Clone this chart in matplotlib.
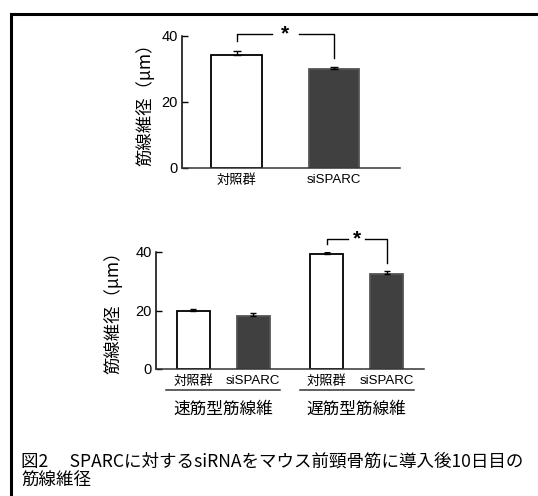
import matplotlib
matplotlib.use('Agg')
import matplotlib.pyplot as plt
from matplotlib.lines import Line2D

JP = ['Noto Sans CJK JP', 'DejaVu Sans']
NUM = ['Liberation Sans', 'DejaVu Sans']

# data
top_labels = ['対照群', 'siSPARC']
top_values = [34.2, 30.0]
top_err = [1.2, 0.7]

bottom_labels = ['対照群', 'siSPARC', '対照群', 'siSPARC']
bottom_values = [19.8, 18.2, 39.4, 32.6]
bottom_err = [0.7, 0.9, 0.7, 0.9]
groups = ['速筋型筋線維', '遅筋型筋線維']

ylabel = '筋線維径（μm）'
caption = ['図2　 SPARCに対するsiRNAをマウス前頸骨筋に導入後10日目の', '筋線維径']

W, H = 538, 496
fig = plt.figure(figsize=(W / 100, H / 100), dpi=100)
fig.patch.set_facecolor('white')

def px(x0, y0, x1, y1):
    # pixel box (top-left origin) -> figure fraction rect
    return [x0 / W, 1 - y1 / H, (x1 - x0) / W, (y1 - y0) / H]

face = ['white', '#404040']
edge = ['black', '#555555']

def style(ax):
    for s in ['top', 'right']:
        ax.spines[s].set_visible(False)
    ax.spines['left'].set_linewidth(1.1)
    ax.spines['bottom'].set_linewidth(1.1)
    ax.spines['bottom'].set_color('#333333')
    ax.set_ylim(0, 40)
    ax.set_yticks([0, 20, 40])
    ax.tick_params(axis='y', direction='in', length=4.5, width=1, pad=3, labelsize=10.5)
    ax.tick_params(axis='x', length=0, pad=4)
    for t in ax.get_yticklabels():
        t.set_family(NUM)

def bracket(ax, x0, x1, y_left, y_top, y_right, gap):
    xm = (x0 + x1) / 2
    kw = dict(color='black', lw=1.0, clip_on=False)
    ax.plot([x0, x0, xm - gap], [y_left, y_top, y_top], **kw)
    ax.plot([xm + gap, x1, x1], [y_top, y_top, y_right], **kw)
    ax.text(xm, y_top, '*', ha='center', va='center', fontsize=15,
            fontweight='bold', family=NUM)

# ---- top chart ----
ax1 = fig.add_axes(px(182, 36, 400, 168))
style(ax1)
pos1 = [0, 1]
ax1.bar(pos1, top_values, width=0.52, color=face, edgecolor=edge, linewidth=1.3)
ax1.errorbar(pos1, top_values, yerr=[[0, 0], top_err], fmt='none',
             ecolor='black', elinewidth=1, capsize=3)
ax1.set_xlim(-0.56, 1.68)
ax1.set_xticks(pos1)
ax1.set_xticklabels(top_labels, fontsize=9.5, family=JP)
ax1.get_xticklabels()[1].set_family(NUM)
bracket(ax1, 0, 1, 38.5, 40.5, 33.4, 0.14)

fig.text(145 / W, 1 - 100 / H, ylabel, rotation=90, ha='center', va='center',
         fontsize=12.5, family=JP)

# ---- bottom chart ----
ax2 = fig.add_axes(px(156, 252, 424, 369))
style(ax2)
centers = [0, 2.225]
pos2 = [centers[0] - 0.5, centers[0] + 0.5, centers[1] - 0.5, centers[1] + 0.5]
ax2.bar(pos2, bottom_values, width=0.55, color=face * 2, edgecolor=edge * 2,
        linewidth=1.3)
ax2.errorbar(pos2, bottom_values, yerr=[[0] * 4, bottom_err], fmt='none',
             ecolor='black', elinewidth=1, capsize=2.5)
ax2.set_xlim(-1.12, 3.35)
ax2.set_xticks(pos2)
ax2.set_xticklabels(bottom_labels, fontsize=9.5, family=JP)
for i in [1, 3]:
    ax2.get_xticklabels()[i].set_family(NUM)
bracket(ax2, pos2[2], pos2[3], 42.6, 44.6, 36.4, 0.14)

tr = ax2.get_xaxis_transform()
for c, g in zip(centers, groups):
    ax2.plot([c - 0.95, c + 0.95], [-0.176, -0.176], color='#333333', lw=1.1,
             transform=tr, clip_on=False)
    ax2.text(c, -0.345, g, transform=tr, ha='center', va='center',
             fontsize=12, family=JP)

fig.text(113 / W, 1 - 308 / H, ylabel, rotation=90, ha='center', va='center',
         fontsize=12.5, family=JP)

# ---- frame and caption ----
fig.add_artist(Line2D([11 / W, 11 / W], [0, 1 - 14 / H], color='black', lw=2.2,
                      transform=fig.transFigure))
fig.add_artist(Line2D([11 / W, 1], [1 - 14 / H, 1 - 14 / H], color='black', lw=2.2,
                      transform=fig.transFigure))

fig.text(21 / W, 1 - 471 / H, '\n'.join(caption), ha='left', va='center',
         fontsize=12.6, linespacing=1.08, family=JP)

fig.savefig('out.png', dpi=100)
